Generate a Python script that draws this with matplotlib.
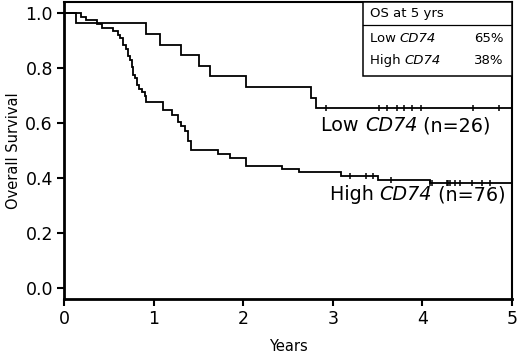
import numpy as np
import matplotlib
matplotlib.use("Agg")
import matplotlib.pyplot as plt
from matplotlib.patches import Rectangle

plt.rcParams['font.family'] = ['DejaVu Sans']

# Low CD74 (n=26) Kaplan-Meier steps
low_times = [0, 0.134, 0.912, 1.071, 1.31, 1.503, 1.626, 2.036, 2.761, 2.817]
low_surv = [1.0, 0.962, 0.923, 0.885, 0.846, 0.808, 0.769, 0.731, 0.692, 0.654]
low_censor = [2.92, 3.52, 3.61, 3.72, 3.80, 3.88, 3.98, 4.56, 4.85]

# High CD74 (n=76) Kaplan-Meier steps
high_times = [0, 0.19, 0.24, 0.37, 0.42, 0.55, 0.60, 0.63, 0.66, 0.69,
              0.71, 0.74, 0.76, 0.77, 0.79, 0.81, 0.84, 0.87, 0.90, 0.92,
              1.10, 1.20, 1.27, 1.31, 1.35, 1.38, 1.42, 1.72, 1.85, 2.03,
              2.43, 2.62, 3.09, 3.50, 4.08]
high_surv = [1.0, 0.987, 0.974, 0.961, 0.947, 0.934, 0.921, 0.908, 0.882, 0.868,
             0.842, 0.829, 0.803, 0.776, 0.763, 0.737, 0.724, 0.711, 0.697, 0.675,
             0.647, 0.627, 0.605, 0.587, 0.569, 0.533, 0.500, 0.487, 0.471, 0.444,
             0.433, 0.421, 0.407, 0.393, 0.380]
high_censor = [3.19, 3.37, 3.45, 3.65, 4.09, 4.11, 4.27, 4.29, 4.31, 4.36, 4.42, 4.55, 4.66, 4.75]

follow_up_end = 5.0
x_ticks = [0, 1, 2, 3, 4, 5]
y_ticks = [0.0, 0.2, 0.4, 0.6, 0.8, 1.0]
os5_labels = ['Low', 'High']
os5_values = ['65%', '38%']

fig = plt.figure(figsize=(5.2, 3.59), dpi=100)
ax = fig.add_axes([64/520, 1 - 298.7/359, (512 - 64)/520, (298.7 - 2)/359])

def draw_curve(times, surv, censor):
    t = list(times) + [follow_up_end]
    s = list(surv) + [surv[-1]]
    ax.step(t, s, where='post', color='black', lw=1.3, solid_joinstyle='miter')
    idx = np.searchsorted(times, censor, side='right') - 1
    cy = np.array(surv)[idx]
    ax.plot(censor, cy, linestyle='none', marker='|', color='black',
            markersize=5, markeredgewidth=1.1)

draw_curve(low_times, low_surv, low_censor)
draw_curve(high_times, high_surv, high_censor)

ax.set_xlim(0, 5)
ax.set_ylim(-0.04, 1.04)
ax.set_xticks(x_ticks)
ax.set_xticklabels([str(v) for v in x_ticks])
ax.set_yticks(y_ticks)
ax.set_yticklabels([f"{v:.1f}" for v in y_ticks])
ax.tick_params(axis='both', direction='out', length=5, width=1.5, labelsize=12.5, pad=3)
for side in ['left', 'bottom']:
    ax.spines[side].set_linewidth(2.0)
for side in ['top', 'right']:
    ax.spines[side].set_linewidth(1.5)

ax.set_xlabel('Years', fontsize=10.5, labelpad=8)
ax.set_ylabel('Overall Survival', fontsize=10.5, labelpad=3)


def mixed_text(x, y, pieces, size, zorder=3):
    """pieces: list of (string, style). Placed left to right."""
    first = ax.text(x, y, pieces[0][0], fontsize=size, style=pieces[0][1],
                    va='center', ha='left', zorder=zorder)
    prev = first
    for s, st in pieces[1:]:
        prev = ax.annotate(s, xy=(1, 0), xycoords=prev, fontsize=size, style=st,
                           va='bottom', ha='left', zorder=zorder)
    return first

mixed_text(2.873, 0.59, [('Low ', 'normal'), ('CD74', 'italic'), (' (n=26)', 'normal')], 13.8)
mixed_text(2.965, 0.338, [('High ', 'normal'), ('CD74', 'italic'), (' (n=76)', 'normal')], 13.8)

# Legend table box
bx0, bx1 = 3.34, 5.0
by0, by1, bdiv = 0.772, 1.04, 0.956
ax.add_patch(Rectangle((bx0, by0), bx1 - bx0, by1 - by0, facecolor='white',
                       edgecolor='black', lw=1.1, zorder=5))
ax.plot([bx0, bx1], [bdiv, bdiv], color='black', lw=0.9, zorder=6)
ax.text(bx0 + 0.07, 0.998, 'OS at 5 yrs', fontsize=9.5, va='center', ha='left', zorder=7)
row_y = [0.907, 0.826]
for lab, val, yy in zip(os5_labels, os5_values, row_y):
    mixed_text(bx0 + 0.07, yy, [(lab + ' ', 'normal'), ('CD74', 'italic')], 9.5, zorder=7)
    ax.text(bx1 - 0.09, yy, val, fontsize=9.5, va='center', ha='right', zorder=7)

fig.savefig('out.png', dpi=100)
